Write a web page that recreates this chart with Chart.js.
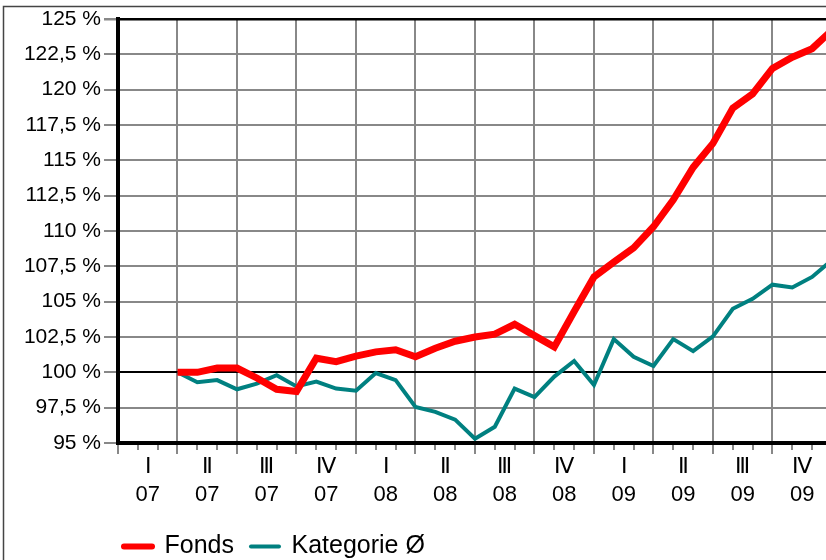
<!DOCTYPE html>
<html>
<head>
<meta charset="utf-8">
<script src="https://cdn.jsdelivr.net/npm/chart.js@4.4.1/dist/chart.umd.min.js"></script>
<style>
  html, body { margin: 0; padding: 0; background: #fff; }
  #wrap { width: 826px; height: 560px; }
</style>
</head>
<body>
<div id="wrap"><canvas id="chart" width="826" height="560"></canvas></div>
<script>
const FONT = "'Liberation Sans', Arial, sans-serif";
const COLOR_FONDS = '#FF0000';
const COLOR_KAT = '#008080';
const COLOR_GRID = '#888888';

// Quarter tick labels (Q1 2007 .. Q4 2009)
const quarterLabels = [
  ['Ⅰ', '07'], ['Ⅱ', '07'], ['Ⅲ', '07'], ['Ⅳ', '07'],
  ['Ⅰ', '08'], ['Ⅱ', '08'], ['Ⅲ', '08'], ['Ⅳ', '08'],
  ['Ⅰ', '09'], ['Ⅱ', '09'], ['Ⅲ', '09'], ['Ⅳ', '09']
];

// Monthly values (%) starting at the beginning of Q2 2007 (month index 3)
const startMonth = 3;
const fonds = [
  100, 100, 100.3, 100.3, 99.6, 98.8, 98.65, 101.0, 100.75, 101.15,
  101.45, 101.6, 101.1, 101.7, 102.2, 102.5, 102.7, 103.4, 102.6, 101.8,
  104.3, 106.75, 107.8, 108.8, 110.3, 112.2, 114.5, 116.2, 118.7, 119.7,
  121.5, 122.3, 122.9, 124.2
];
const kategorie = [
  100, 99.3, 99.45, 98.8, 99.2, 99.8, 99.0, 99.35, 98.85, 98.7,
  99.95, 99.45, 97.55, 97.2, 96.65, 95.3, 96.15, 98.85, 98.25, 99.7,
  100.8, 99.1, 102.35, 101.1, 100.45, 102.35, 101.5, 102.55, 104.5, 105.2,
  106.2, 106.0, 106.75, 107.95
];

const X_MAX = 35.7;
const LEGEND_INDENT = 107;

const toPoints = (values) => values.map((v, i) => ({ x: startMonth + i, y: v }));

// Thin frame round the whole picture, the month/quarter tick marks under the
// axis, and the legend pushed in to sit under the plot.
const framePlugin = {
  id: 'frame',
  afterLayout(chart) {
    if (chart.legend) chart.legend.left = LEGEND_INDENT;
  },
  beforeDraw(chart) {
    const { ctx } = chart;
    ctx.save();
    ctx.strokeStyle = '#444';
    ctx.lineWidth = 1.5;
    ctx.strokeRect(3.5, 6.5, 1000, 1000);
    ctx.restore();
  },
  afterDraw(chart) {
    const { ctx, chartArea, scales } = chart;
    const x = scales.x;
    ctx.save();
    ctx.strokeStyle = COLOR_GRID;
    ctx.lineWidth = 2;
    for (let m = 0; m <= Math.floor(X_MAX); m++) {
      const px = Math.round(x.getPixelForValue(m));
      const len = m % 3 === 0 ? 11 : 7;
      ctx.beginPath();
      ctx.moveTo(px, chartArea.bottom + 2);
      ctx.lineTo(px, chartArea.bottom + len);
      ctx.stroke();
    }
    ctx.restore();
  }
};

new Chart(document.getElementById('chart'), {
  type: 'line',
  data: {
    datasets: [
      {
        label: 'Fonds',
        data: toPoints(fonds),
        borderColor: COLOR_FONDS,
        backgroundColor: COLOR_FONDS,
        borderWidth: 7,
        pointRadius: 0,
        tension: 0
      },
      {
        label: 'Kategorie Ø',
        data: toPoints(kategorie),
        borderColor: COLOR_KAT,
        backgroundColor: COLOR_KAT,
        borderWidth: 4,
        pointRadius: 0,
        tension: 0
      }
    ]
  },
  options: {
    responsive: false,
    animation: false,
    devicePixelRatio: 1,
    layout: { padding: { left: 0, top: 19, right: 0, bottom: 0 } },
    plugins: {
      tooltip: { enabled: false },
      legend: {
        position: 'bottom',
        align: 'start',
        maxHeight: 43,
        labels: {
          color: '#000',
          font: { family: FONT, size: 25 },
          padding: 17,
          usePointStyle: true,
          pointStyle: 'line',
          pointStyleWidth: 28,
          generateLabels(chart) {
            const items = Chart.defaults.plugins.legend.labels.generateLabels(chart);
            return items.map((item, i) => ({
              ...item,
              lineWidth: i === 0 ? 6 : 4,
              lineCap: 'round',
              pointStyle: 'line'
            }));
          }
        }
      }
    },
    scales: {
      x: {
        type: 'linear',
        position: 'bottom',
        weight: 0,
        min: 0,
        max: X_MAX,
        afterBuildTicks(scale) {
          const ticks = [];
          for (let m = 0; m <= Math.floor(X_MAX); m += 3) ticks.push({ value: m });
          scale.ticks = ticks;
        },
        afterFit(scale) { scale.height = 10; },
        ticks: { display: false },
        grid: { color: COLOR_GRID, lineWidth: 2, drawTicks: false },
        border: { color: '#000', width: 4 }
      },
      x2: {
        type: 'linear',
        position: 'bottom',
        weight: 1,
        min: 0,
        max: X_MAX,
        afterBuildTicks(scale) {
          scale.ticks = quarterLabels.map((_, q) => ({ value: q * 3 + 1.5 }));
        },
        afterFit(scale) { scale.height = 64; },
        ticks: {
          autoSkip: false,
          maxRotation: 0,
          padding: 0,
          color: '#000',
          font: { family: FONT, size: 22, lineHeight: 28 / 22 },
          callback: (value, index) => quarterLabels[index]
        },
        grid: { display: false, drawTicks: false },
        border: { display: false }
      },
      y: {
        min: 95,
        max: 125,
        afterFit(scale) { scale.width = 118; },
        ticks: {
          stepSize: 2.5,
          padding: 3,
          color: '#000',
          font: { family: FONT, size: 21 },
          callback: (v) => String(v).replace('.', ',') + ' %'
        },
        grid: {
          color: (c) => (c.tick && (c.tick.value === 100 || c.tick.value === 125) ? '#000' : COLOR_GRID),
          lineWidth: (c) => (c.tick && c.tick.value === 125 ? 2.5 : 2),
          tickColor: COLOR_GRID,
          tickLength: 14
        },
        border: { color: '#000', width: 4 }
      }
    }
  },
  plugins: [framePlugin]
});
</script>
</body>
</html>
